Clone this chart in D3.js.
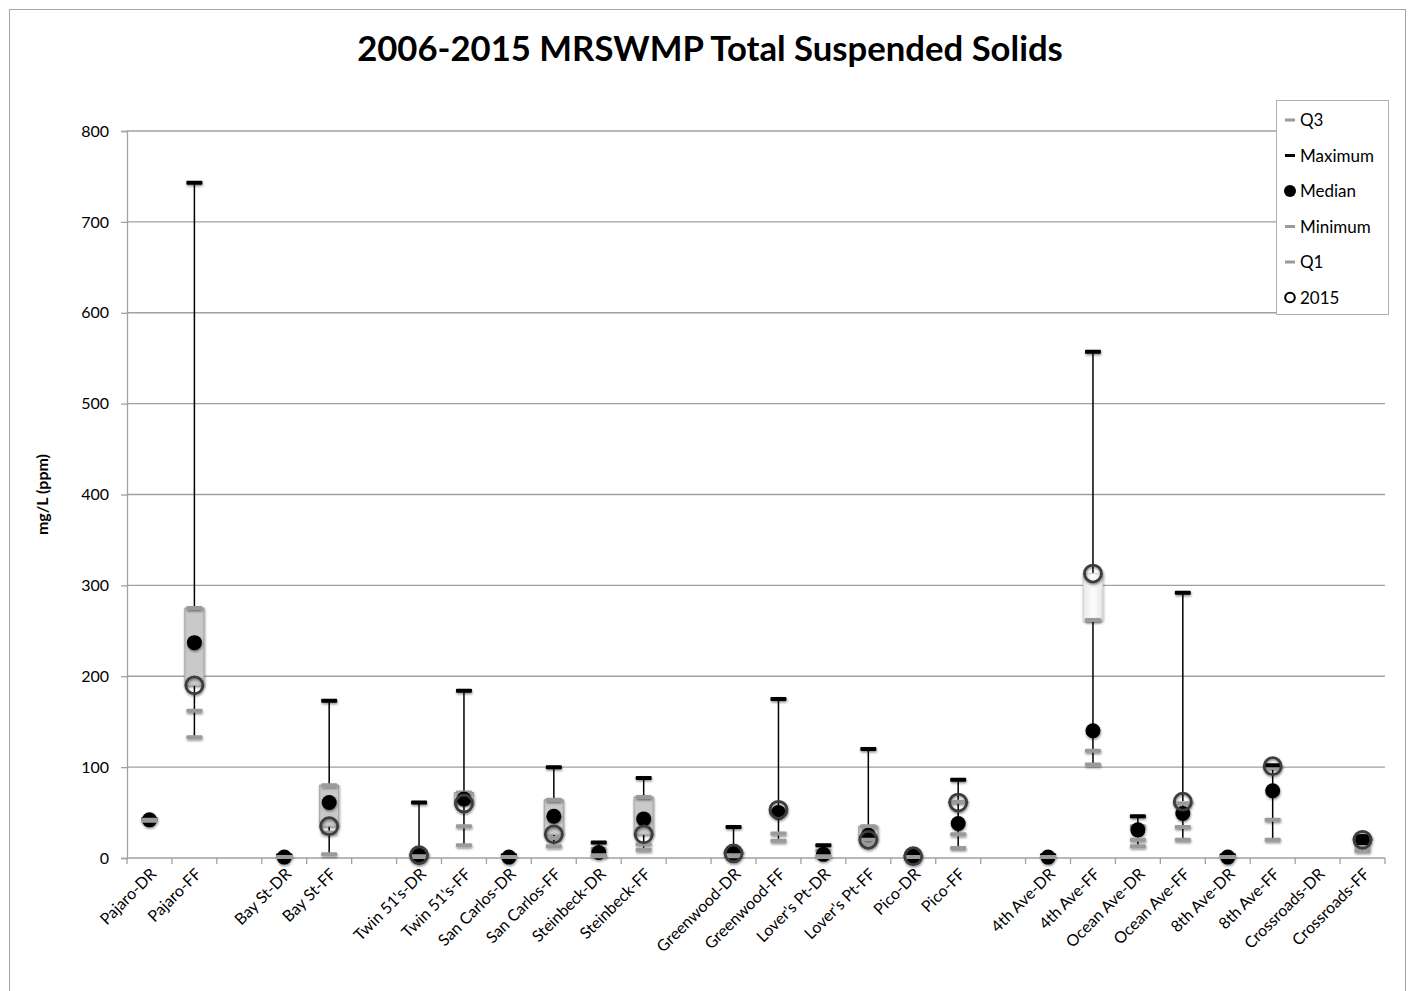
<!DOCTYPE html>
<html>
<head>
<meta charset="utf-8">
<script src="https://cdn.jsdelivr.net/npm/d3@7"></script>
<style>
  body { margin: 0; background: #fff; }
  svg { display: block; }
</style>
</head>
<body>
<div id="chart"></div>
<script>
// categories ("" = empty slot between station groups)
const sites = [
  "Pajaro-DR", "Pajaro-FF", "",
  "Bay St-DR", "Bay St-FF", "",
  "Twin 51's-DR", "Twin 51's-FF", "San Carlos-DR", "San Carlos-FF",
  "Steinbeck-DR", "Steinbeck-FF", "",
  "Greenwood-DR", "Greenwood-FF", "Lover's Pt-DR", "Lover's Pt-FF",
  "Pico-DR", "Pico-FF", "",
  "4th Ave-DR", "4th Ave-FF", "Ocean Ave-DR", "Ocean Ave-FF",
  "8th Ave-DR", "8th Ave-FF", "Crossroads-DR", "Crossroads-FF"
];

const q3      = [42, 275, null, 2, 80, null, 5, 72, 2, 64, 10, 67, null, 7, 53, 8, 35, 3, 62, null, 2, 262, 35, 60, 2, 99, null, 22];
const maximum = [43, 743, null, 3, 173, null, 61, 184, 3, 100, 17, 88, null, 34, 175, 14, 120, 4, 86, null, 3, 557, 46, 292, 3, 102, null, 24];
const median  = [42, 237, null, 1, 61, null, 3, 65, 1, 46, 6, 43, null, 5, 50, 4, 25, 2, 38, null, 1, 140, 31, 49, 1, 74, null, 18];
const minimum = [41, 133, null, 1, 4, null, 1, 14, 1, 13, 2, 9, null, 2, 19, 1, 15, 1, 11, null, 1, 103, 13, 20, 1, 20, null, 8];
const q1      = [42, 162, null, 1, 28, null, 2, 35, 1, 22, 3, 15, null, 3, 27, 2, 20, 1, 26, null, 1, 118, 20, 34, 1, 42, null, 12];
const y2015   = [null, 190, null, null, 35, null, 3, 60, null, 26, null, 26, null, 5, 53, null, 20, 2, 61, null, null, 313, null, 62, null, 101, null, 20];

const yTicks = [0, 100, 200, 300, 400, 500, 600, 700, 800];

(function () {
  const width = 1415;
  const height = 991;
  const font = "Lato, Calibri, 'Open Sans', sans-serif";

  const margin = { left: 127, right: 30, top: 131, bottom: 133 };

  const svg = d3
    .select("#chart")
    .append("svg")
    .attr("width", width)
    .attr("height", height);

  // soft shadow like the original markers
  const defs = svg.append("defs");
  defs
    .append("filter")
    .attr("id", "shadow")
    .attr("x", "-50%")
    .attr("y", "-50%")
    .attr("width", "200%")
    .attr("height", "200%")
    .append("feDropShadow")
    .attr("dx", 0.5)
    .attr("dy", 1.5)
    .attr("stdDeviation", 1.3)
    .attr("flood-color", "#000")
    .attr("flood-opacity", 0.45);

  const upGrad = defs
    .append("linearGradient")
    .attr("id", "upbar")
    .attr("x1", 0).attr("x2", 1).attr("y1", 0).attr("y2", 0);
  upGrad.append("stop").attr("offset", "0%").attr("stop-color", "#e8e8e8");
  upGrad.append("stop").attr("offset", "50%").attr("stop-color", "#fdfdfd");
  upGrad.append("stop").attr("offset", "100%").attr("stop-color", "#e8e8e8");

  // outer chart border
  svg
    .append("rect")
    .attr("x", 9.5)
    .attr("y", 9.5)
    .attr("width", 1396)
    .attr("height", 1000)
    .attr("fill", "none")
    .attr("stroke", "#a6a6a6")
    .attr("stroke-width", 1);

  const x = d3
    .scaleBand()
    .domain(d3.range(sites.length))
    .range([margin.left, width - margin.right]);

  const y = d3
    .scaleLinear()
    .domain([0, 800])
    .range([height - margin.bottom, margin.top]);

  // gridlines
  svg
    .append("g")
    .selectAll("line")
    .data(yTicks.slice(1))
    .join("line")
    .attr("x1", margin.left)
    .attr("x2", width - margin.right)
    .attr("y1", (d) => y(d))
    .attr("y2", (d) => y(d))
    .attr("stroke", "#a0a0a0")
    .attr("stroke-width", 1.3);

  // y axis
  const yAxis = svg
    .append("g")
    .attr("transform", `translate(${margin.left},0)`)
    .call(d3.axisLeft(y).tickValues(yTicks).tickSize(6).tickPadding(12));
  yAxis.select(".domain").attr("stroke", "#a0a0a0").attr("stroke-width", 1.3);
  yAxis.selectAll(".tick line").attr("stroke", "#a0a0a0").attr("stroke-width", 1.3);
  yAxis
    .selectAll(".tick text")
    .attr("font-family", font)
    .attr("font-size", "16px")
    .attr("fill", "#000");

  // x axis: ticks between categories
  const xAxisY = y(0);
  const xg = svg.append("g");
  xg.append("line")
    .attr("x1", margin.left)
    .attr("x2", width - margin.right)
    .attr("y1", xAxisY)
    .attr("y2", xAxisY)
    .attr("stroke", "#a0a0a0")
    .attr("stroke-width", 1.3);
  xg.selectAll("line.tick")
    .data(d3.range(sites.length + 1))
    .join("line")
    .attr("class", "tick")
    .attr("x1", (i) => margin.left + i * x.step())
    .attr("x2", (i) => margin.left + i * x.step())
    .attr("y1", xAxisY)
    .attr("y2", xAxisY + 6)
    .attr("stroke", "#a0a0a0")
    .attr("stroke-width", 1.3);
  xg.selectAll("text")
    .data(sites.map((s, i) => ({ s, i })).filter((d) => d.s !== ""))
    .join("text")
    .attr("transform", (d) => {
      const cx = x(d.i) + x.bandwidth() / 2 + 8;
      return `translate(${cx},${xAxisY + 17}) rotate(-45)`;
    })
    .attr("text-anchor", "end")
    .attr("font-family", font)
    .attr("font-size", "16px")
    .attr("fill", "#000")
    .text((d) => d.s);

  // y axis title
  svg
    .append("text")
    .attr("transform", `translate(48,${(y(0) + y(800)) / 2}) rotate(-90)`)
    .attr("text-anchor", "middle")
    .attr("font-family", font)
    .attr("font-weight", "bold")
    .attr("font-size", "16px")
    .text("mg/L (ppm)");

  // chart title, fitted to the width of the original
  const title = svg
    .append("text")
    .attr("x", 710)
    .attr("y", 61)
    .attr("text-anchor", "middle")
    .attr("font-family", font)
    .attr("font-weight", "bold")
    .attr("font-size", "31px")
    .text("2006-2015 MRSWMP Total Suspended Solids");
  const tw = title.node().getComputedTextLength();
  title.attr("font-size", (31 * 706) / tw + "px");

  // ---------------------------MARKS-----------------------------------

  const rows = sites.map((s, i) => ({
    i,
    q3: q3[i],
    max: maximum[i],
    med: median[i],
    min: minimum[i],
    q1: q1[i],
    y15: y2015[i]
  }));
  const cx = (d) => x(d.i) + x.bandwidth() / 2;

  // high-low lines
  svg
    .append("g")
    .selectAll("line")
    .data(rows.filter((d) => d.max != null))
    .join("line")
    .attr("x1", cx)
    .attr("x2", cx)
    .attr("y1", (d) => y(d.max))
    .attr("y2", (d) => y(d.min))
    .attr("stroke", "#000")
    .attr("stroke-width", 1.5);

  // up/down bars between first series (Q3) and last series (2015)
  const barW = 19;
  svg
    .append("g")
    .selectAll("rect")
    .data(rows.filter((d) => d.q3 != null && d.y15 != null))
    .join("rect")
    .attr("x", (d) => cx(d) - barW / 2)
    .attr("y", (d) => y(Math.max(d.q3, d.y15)))
    .attr("width", barW)
    .attr("height", (d) => Math.abs(y(d.q3) - y(d.y15)))
    .attr("fill", (d) => (d.y15 > d.q3 ? "url(#upbar)" : "#c9c9c9"))
    .attr("stroke", (d) => (d.y15 > d.q3 ? "#d4d4d4" : "#a8a8a8"))
    .attr("stroke-width", 1.2)
    .attr("filter", "url(#shadow)");

  const marks = svg.append("g").attr("filter", "url(#shadow)");

  function dashes(key, color) {
    marks
      .append("g")
      .selectAll("rect")
      .data(rows.filter((d) => d[key] != null))
      .join("rect")
      .attr("x", (d) => cx(d) - 8)
      .attr("y", (d) => y(d[key]) - 2)
      .attr("width", 16)
      .attr("height", 4)
      .attr("rx", 1)
      .attr("fill", color);
  }

  dashes("q3", "#9a9a9a");
  dashes("max", "#000");

  marks
    .append("g")
    .selectAll("circle")
    .data(rows.filter((d) => d.med != null))
    .join("circle")
    .attr("cx", cx)
    .attr("cy", (d) => y(d.med))
    .attr("r", 7.5)
    .attr("fill", "#000");

  dashes("min", "#9a9a9a");
  dashes("q1", "#9a9a9a");

  marks
    .append("g")
    .selectAll("circle")
    .data(rows.filter((d) => d.y15 != null))
    .join("circle")
    .attr("cx", cx)
    .attr("cy", (d) => y(d.y15))
    .attr("r", 8.5)
    .attr("fill", "none")
    .attr("stroke", "#3c3c3c")
    .attr("stroke-width", 2.8);

  // ---------------------------LEGEND-----------------------------------

  const legendItems = [
    { name: "Q3", type: "dash", color: "#9a9a9a" },
    { name: "Maximum", type: "dash", color: "#000" },
    { name: "Median", type: "dot" },
    { name: "Minimum", type: "dash", color: "#9a9a9a" },
    { name: "Q1", type: "dash", color: "#9a9a9a" },
    { name: "2015", type: "ring" }
  ];

  const legend = svg.append("g").attr("transform", "translate(1276,100)");
  legend
    .append("rect")
    .attr("x", 0.5)
    .attr("y", 0.5)
    .attr("width", 112)
    .attr("height", 214)
    .attr("fill", "#fff")
    .attr("stroke", "#b0b0b0");

  const entries = legend
    .selectAll("g")
    .data(legendItems)
    .join("g")
    .attr("transform", (d, i) => `translate(14, ${20 + i * 35.5})`);

  entries
    .filter((d) => d.type === "dash")
    .append("rect")
    .attr("x", -5)
    .attr("y", -1.5)
    .attr("width", 10)
    .attr("height", 3)
    .attr("fill", (d) => d.color);

  entries
    .filter((d) => d.type === "dot")
    .append("circle")
    .attr("r", 6)
    .attr("fill", "#000");

  entries
    .filter((d) => d.type === "ring")
    .append("circle")
    .attr("r", 4.8)
    .attr("fill", "none")
    .attr("stroke", "#000")
    .attr("stroke-width", 2);

  entries
    .append("text")
    .attr("x", 10)
    .attr("y", 6)
    .attr("font-family", font)
    .attr("font-size", "17px")
    .attr("fill", "#000")
    .text((d) => d.name);
})();
</script>
</body>
</html>
